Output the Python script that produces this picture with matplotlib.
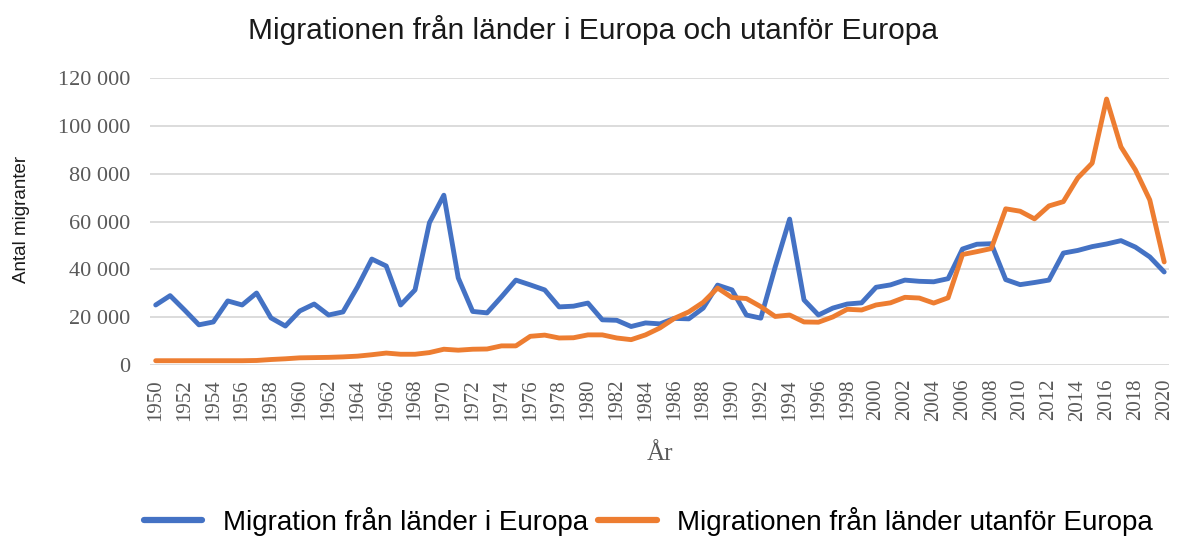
import matplotlib
matplotlib.use("Agg")
import matplotlib.pyplot as plt
from matplotlib.ticker import FuncFormatter

years = list(range(1950, 2021))

europe = [25100, 29000, 23000, 16800, 18000, 26800, 25100, 30100, 19700, 16300,
          22600, 25500, 20900, 22200, 32600, 44300, 41400, 25100, 31400, 59500,
          71000, 36400, 22400, 21800, 28500, 35500, 33500, 31400, 24300, 24600,
          25900, 18900, 18700, 16100, 17600, 17200, 19500, 19300, 23800, 33400,
          31400, 20900, 19600, 41000, 61000, 27200, 20900, 23800, 25500, 26000,
          32500, 33500, 35500, 35000, 34800, 36100, 48500, 50500, 50700, 35700,
          33600, 34500, 35500, 46800, 47900, 49500, 50600, 52000, 49300, 45200,
          38900]

outside = [1800, 1800, 1800, 1800, 1800, 1800, 1800, 1900, 2300, 2600,
           3000, 3100, 3200, 3400, 3700, 4300, 5000, 4500, 4500, 5200,
           6600, 6200, 6600, 6700, 8000, 8000, 12000, 12500, 11300, 11400,
           12600, 12600, 11300, 10600, 12600, 15500, 19500, 22200, 26200, 32200,
           28200, 27800, 24400, 20300, 20900, 18000, 17900, 20100, 23300, 23000,
           25100, 26000, 28300, 28000, 25900, 28100, 46200, 47400, 48700, 65300,
           64300, 61100, 66500, 68300, 78200, 84400, 111200, 91200, 81600, 69000,
           43100]

yticks = [0, 20000, 40000, 60000, 80000, 100000, 120000]
xticks = list(range(1950, 2021, 2))

title = "Migrationen från länder i Europa och utanför Europa"
label_eu = "Migration från länder i Europa"
label_out = "Migrationen från länder utanför Europa"

fig = plt.figure(figsize=(11.77, 5.36), dpi=100)
ax = fig.add_axes([0.1274, 0.319, 0.866, 0.5355])

ax.plot(years, europe, color="#4472C4", lw=3.5, label=label_eu, solid_capstyle="round", solid_joinstyle="round")
ax.plot(years, outside, color="#ED7D31", lw=3.5, label=label_out, solid_capstyle="round", solid_joinstyle="round")

ax.set_ylim(0, 120000)
ax.set_xlim(1949.6, 2020.35)
ax.set_yticks(yticks)
ax.set_xticks(xticks)
ax.yaxis.set_major_formatter(FuncFormatter(lambda v, p: f"{int(v):,}".replace(",", " ")))
ax.grid(axis="y", color="#D9D9D9", lw=1.3)
ax.set_axisbelow(True)
for s in ax.spines.values():
    s.set_visible(False)
ax.tick_params(axis="both", length=0, colors="#595959")
for lab in ax.get_yticklabels():
    lab.set_fontfamily("Liberation Serif")
    lab.set_fontsize(16)
for lab in ax.get_xticklabels():
    lab.set_fontfamily("Liberation Serif")
    lab.set_fontsize(15)
    lab.set_rotation(90)
ax.tick_params(axis="y", pad=14)
ax.tick_params(axis="x", pad=10)

fig.text(0.504, 0.944, title, ha="center", va="center", fontsize=21.5,
         family="Liberation Sans", color="#1a1a1a")
fig.text(0.561, 0.153, "År", ha="center", va="center", fontsize=18,
         family="Liberation Serif", color="#595959")
fig.text(0.018, 0.59, "Antal migranter", ha="center", va="center", rotation=90,
         fontsize=13.5, family="Liberation Sans", color="#1a1a1a")

leg = fig.legend(loc="center", bbox_to_anchor=(0.551, 0.027), ncol=2, frameon=False,
                 prop={"family": "Liberation Sans", "size": 20},
                 handlelength=2.1, handletextpad=0.75, columnspacing=0.36)
for h in leg.legend_handles:
    h.set_linewidth(4.5)

fig.savefig("out.png", dpi=100)
